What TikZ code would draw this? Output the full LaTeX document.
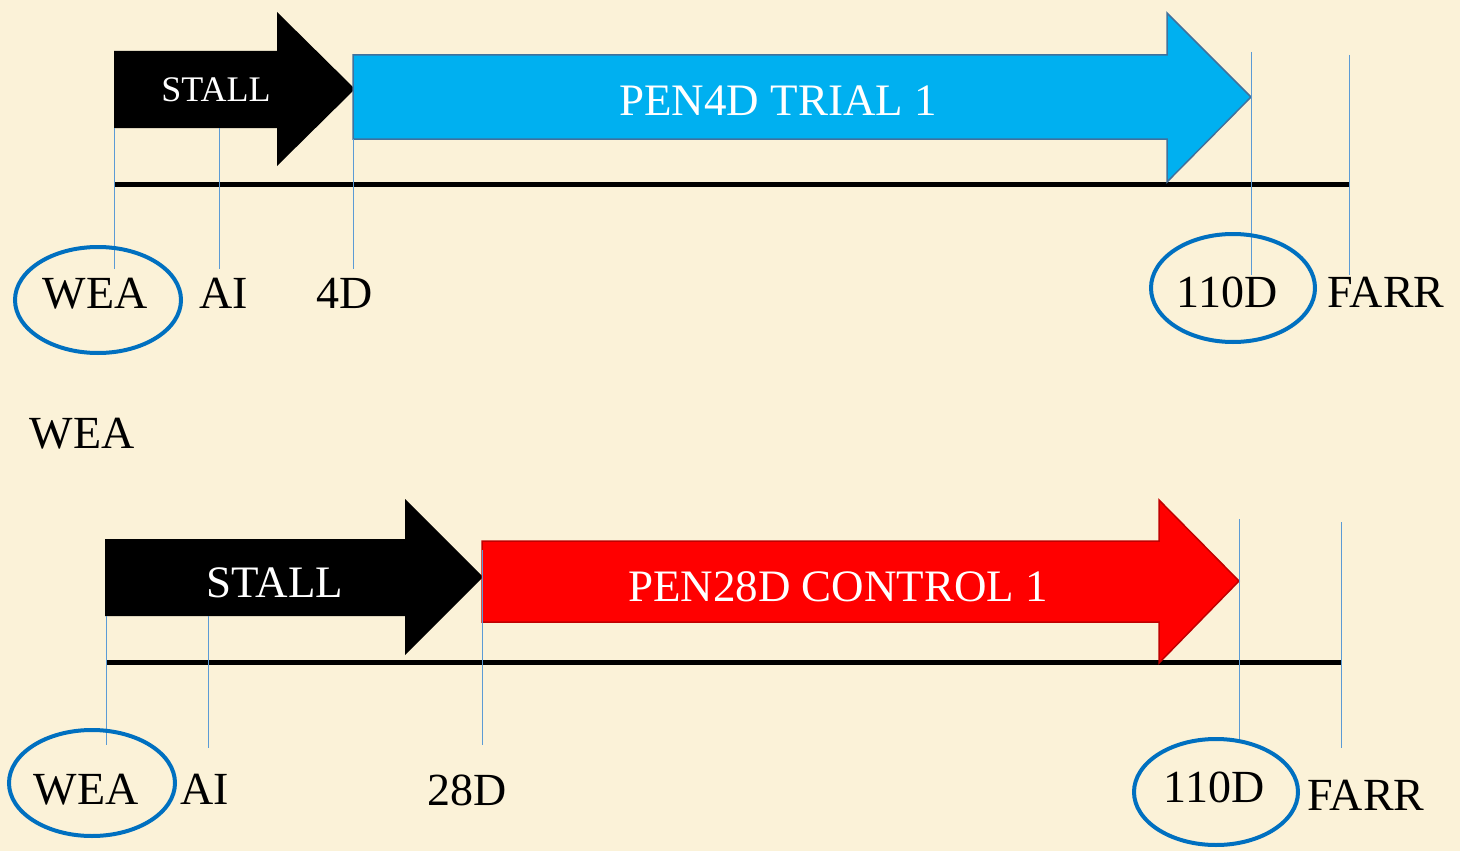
\documentclass[tikz,border=0pt]{standalone}
\usepackage{fontspec}
\setmainfont{Liberation Serif}
\definecolor{bgc}{RGB}{251,242,216}
\definecolor{cyanfill}{RGB}{0,176,240}
\definecolor{cyanedge}{RGB}{65,113,156}
\definecolor{redfill}{RGB}{255,0,0}
\definecolor{rededge}{RGB}{192,0,0}
\definecolor{tick}{RGB}{91,155,213}
\definecolor{ring}{RGB}{0,112,192}
\tikzset{
  lbl/.style={anchor=base,inner sep=0pt,font=\fontsize{46}{50}\selectfont},
  arrtxt/.style={anchor=base,inner sep=0pt,text=white},
  timeline/.style={line width=5pt,black},
  tickline/.style={line width=1pt,tick},
  ringstyle/.style={draw=ring,line width=4pt},
  blackarrow/.style={fill=black},
  bluearrow/.style={fill=cyanfill,draw=cyanedge,line width=1.5pt},
  redarrow/.style={fill=redfill,draw=rededge,line width=1.5pt}
}
\begin{document}
\begin{tikzpicture}[x=1pt,y=-1pt]
\fill[bgc] (0,0) rectangle (1460,851);
\useasboundingbox (0,0) rectangle (1460,851);

% ---------- top timeline ----------
\coordinate (t1a) at (114,184);
\coordinate (t1b) at (1349,184);
\draw[timeline] (t1a) -- (t1b);
\fill[blackarrow] (114,51) -- (277,51) -- (277,12) -- (355,89) -- (277,166) -- (277,128) -- (114,128) -- cycle;
\draw[bluearrow] (353,55) -- (1167,55) -- (1167,13) -- (1251,97) -- (1167,182) -- (1167,139) -- (353,139) -- cycle;
\node[arrtxt,font=\fontsize{36}{40}\selectfont] (stall1) at (216,102) {STALL};
\node[arrtxt,font=\fontsize{45}{50}\selectfont] (pen4d) at (778,115) {PEN4D TRIAL 1};

% ticks
\coordinate (k1a) at (114,128); \coordinate (k1b) at (114,269);
\coordinate (k2a) at (219,128); \coordinate (k2b) at (219,269);
\coordinate (k3a) at (353,139); \coordinate (k3b) at (353,269);
\coordinate (k4a) at (1251,52); \coordinate (k4b) at (1251,275);
\coordinate (k5a) at (1349,55); \coordinate (k5b) at (1349,275);
\draw[tickline] (k1a) -- (k1b);
\draw[tickline] (k2a) -- (k2b);
\draw[tickline] (k3a) -- (k3b);
\draw[tickline] (k4a) -- (k4b);
\draw[tickline] (k5a) -- (k5b);

% labels
\node[lbl] (wea1) at (95,308) {WEA};
\node[lbl] (ai1) at (224,308) {AI};
\node[lbl] (d4) at (345,308) {4D};
\node[lbl] (d110a) at (1227,307) {110D};
\node[lbl] (farr1) at (1386,307) {FARR};
\draw[ringstyle] (98,300) ellipse [x radius=83, y radius=53];
\draw[ringstyle] (1233,288) ellipse [x radius=82, y radius=54];

% middle
\node[lbl] (weam) at (82,448) {WEA};

% ---------- bottom timeline ----------
\coordinate (t2a) at (107,662);
\coordinate (t2b) at (1341,662);
\draw[timeline] (t2a) -- (t2b);
\fill[blackarrow] (105,539) -- (405,539) -- (405,499) -- (483,577) -- (405,655) -- (405,616) -- (105,616) -- cycle;
\draw[redarrow] (482,541) -- (1159,541) -- (1159,500) -- (1239,581) -- (1159,663) -- (1159,622) -- (482,622) -- cycle;
\node[arrtxt,font=\fontsize{45}{50}\selectfont] (stall2) at (275,597) {STALL};
\node[arrtxt,font=\fontsize{45}{50}\selectfont] (pen28d) at (838,601) {PEN28D CONTROL 1};

\coordinate (m1a) at (106,616); \coordinate (m1b) at (106,745);
\coordinate (m2a) at (208,616); \coordinate (m2b) at (208,748);
\coordinate (m3a) at (482,550); \coordinate (m3b) at (482,745);
\coordinate (m4a) at (1239,519); \coordinate (m4b) at (1239,739);
\coordinate (m5a) at (1341,522); \coordinate (m5b) at (1341,748);
\draw[tickline] (m1a) -- (m1b);
\draw[tickline] (m2a) -- (m2b);
\draw[tickline] (m3a) -- (m3b);
\draw[tickline] (m4a) -- (m4b);
\draw[tickline] (m5a) -- (m5b);

\node[lbl] (wea2) at (86,804) {WEA};
\node[lbl] (ai2) at (205,804) {AI};
\node[lbl] (d28) at (467,805) {28D};
\node[lbl] (d110b) at (1214,802) {110D};
\node[lbl] (farr2) at (1366,810) {FARR};
\draw[ringstyle] (92,783) ellipse [x radius=83, y radius=53];
\draw[ringstyle] (1216,792) ellipse [x radius=82, y radius=53];
\end{tikzpicture}
\end{document}
